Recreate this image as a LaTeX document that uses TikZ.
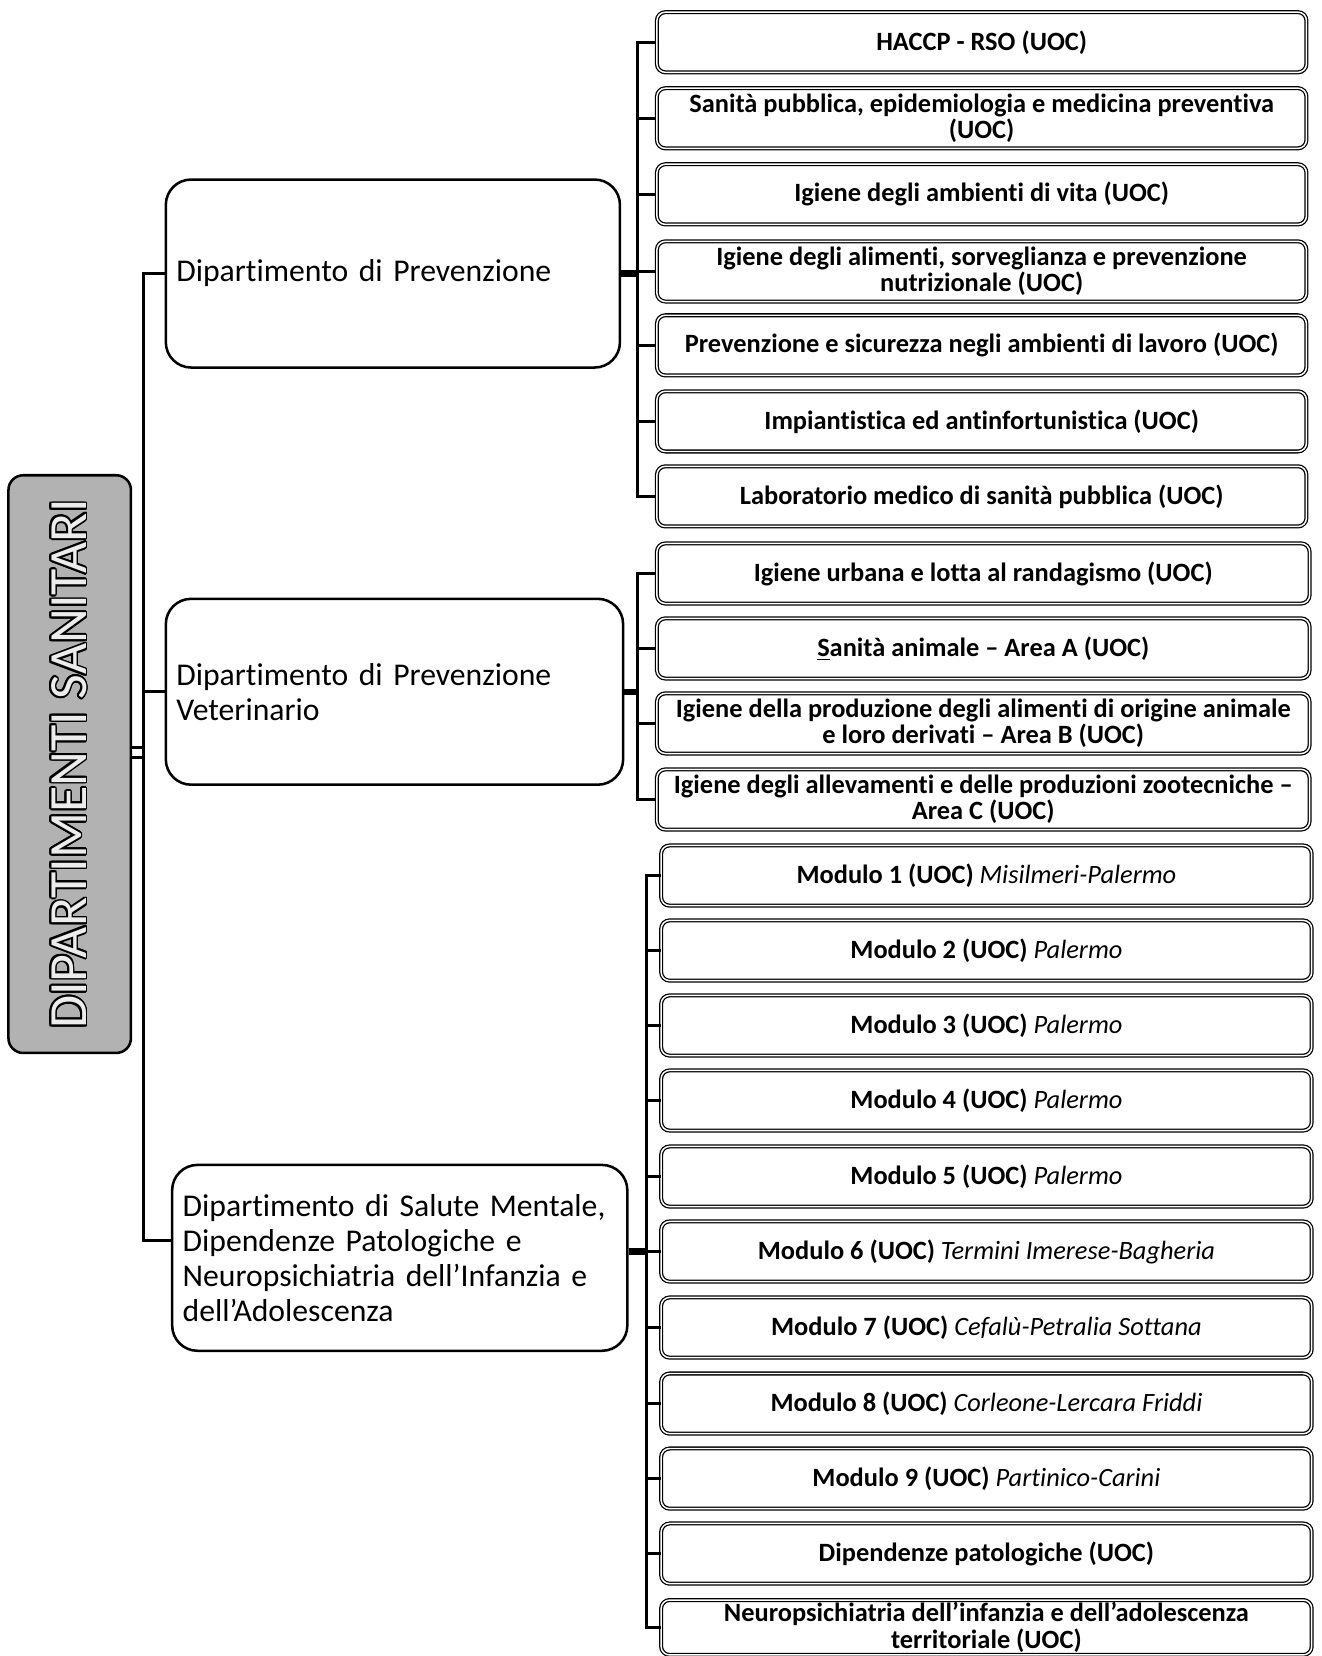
\documentclass[tikz,border=0pt]{standalone}
\usepackage{fontspec}
\setmainfont{Carlito}[Ligatures=NoCommon]
\usepackage{contour}
\contourlength{0.9pt}
\begin{document}
\begin{tikzpicture}[x=0.5pt,y=-0.5pt,
 unit/.style={draw=black, line width=0.6pt, double=white, double distance=0.7pt, rounded corners=4pt, minimum height=28.5pt, inner sep=1pt, align=center, font=\fontsize{12.5}{12.5}\selectfont\bfseries},
 dept/.style={draw=black, line width=1.2pt, rounded corners=12pt, align=left, inner sep=5pt, font=\fontsize{15}{16.5}\selectfont},
 conn/.style={line width=1.4pt},
 stub/.style={line width=3pt},
]
\useasboundingbox (0,0) rectangle (1251,1568);

% root
\node[draw=black, line width=1.2pt, fill=gray!60, rounded corners=7pt, minimum width=58pt, minimum height=273.5pt] (root) at (66,723.5) {};
\node[rotate=90, font=\fontsize{25.5}{25.5}\selectfont] (roottext) at (root.center) {\contour{black}{\textcolor{gray!15}{DIPARTIMENTI SANITARI}}};

% departments
\node[dept, text width=205pt, minimum height=89pt] (d1) at (372,259) {Dipartimento di Prevenzione};
\node[dept, text width=206.5pt, minimum height=88pt] (d2) at (373.5,655) {Dipartimento di Prevenzione\\Veterinario};
\node[dept, text width=205.5pt, minimum height=88pt] (d3) at (378.5,1191) {Dipartimento di Salute Mentale,\\Dipendenze  Patologiche e\\Neuropsichiatria  dell’Infanzia e\\dell’Adolescenza};

% group 1
\begin{scope}[every node/.style={unit, minimum width=307.5pt}]
\node (c1) at (929.5,40) {HACCP - RSO (UOC)};
\node (c2) at (929.5,112) {Sanità pubblica, epidemiologia e medicina preventiva\\(UOC)};
\node (c3) at (929.5,184) {Igiene degli ambienti di vita (UOC)};
\node (c4) at (929.5,257) {Igiene degli alimenti, sorveglianza  e prevenzione\\nutrizionale (UOC)};
\node (c5) at (929.5,327) {Prevenzione e sicurezza negli ambienti di lavoro (UOC)};
\node (c6) at (929.5,399) {Impiantistica ed antinfortunistica  (UOC)};
\node (c7) at (929.5,470) {Laboratorio  medico di sanità pubblica  (UOC)};
\end{scope}

% group 2
\begin{scope}[every node/.style={unit, minimum width=309pt}]
\node (c8) at (931,543) {Igiene urbana  e lotta al randagismo (UOC)};
\node (c9) at (931,614) {\underline{S}anità animale – Area A (UOC)};
\node (c10) at (931,685) {Igiene della produzione  degli alimenti di origine animale\\e loro  derivati – Area B (UOC)};
\node (c11) at (931,757) {Igiene degli allevamenti e delle produzioni  zootecniche –\\Area C (UOC)};
\end{scope}

% group 3
\begin{scope}[every node/.style={unit, minimum width=308pt}]
\node (c12) at (934,829) {Modulo 1 (UOC) \textit{\mdseries Misilmeri-Palermo}};
\node (c13) at (934,900) {Modulo 2 (UOC) \textit{\mdseries Palermo}};
\node (c14) at (934,971) {Modulo 3 (UOC) \textit{\mdseries Palermo}};
\node (c15) at (934,1042) {Modulo 4 (UOC) \textit{\mdseries Palermo}};
\node (c16) at (934,1114) {Modulo 5 (UOC) \textit{\mdseries Palermo}};
\node (c17) at (934,1185) {Modulo 6 (UOC) \textit{\mdseries Termini Imerese-Bagheria}};
\node (c18) at (934,1257) {Modulo 7 (UOC) \textit{\mdseries Cefalù-Petralia Sottana}};
\node (c19) at (934,1329) {Modulo 8 (UOC) \textit{\mdseries Corleone-Lercara Friddi}};
\node (c20) at (934,1400) {Modulo 9 (UOC) \textit{\mdseries Partinico-Carini}};
\node (c21) at (934,1471) {Dipendenze patologiche (UOC)};
\node[minimum height=26pt] (c22) at (934,1541) {Neuropsichiatria dell’infanzia e dell’adolescenza\\territoriale (UOC)};
\end{scope}

% connectors level 1
\coordinate (m) at (136,0);
\coordinate (d3in) at ([yshift=8pt]d3.west);
\draw[conn] (d1.west) -- (d1.west -| m) -- (d3in -| m) -- (d3in);
\draw[conn] (d2.west) -- (d2.west -| m);
\draw[line width=1.4pt] ([yshift=8pt]root.east) -- ([yshift=8pt]root.east -| m);
\draw[line width=1.4pt] ([yshift=3pt]root.east) -- ([yshift=3pt]root.east -| m);

% group 1 connectors
\coordinate (v1) at (604,0);
\draw[stub] (d1.east) -- (d1.east -| v1);
\draw[conn] (c1.west) -- (c1.west -| v1) -- (c7.west -| v1) -- (c7.west);
\foreach \c in {c2,c3,c4,c5,c6} \draw[conn] (\c.west -| v1) -- (\c.west);

% group 2 connectors
\coordinate (v2) at (604,0);
\draw[stub] (d2.east) -- (d2.east -| v2);
\draw[conn] (c8.west) -- (c8.west -| v2) -- (c11.west -| v2) -- (c11.west);
\foreach \c in {c9,c10} \draw[conn] (\c.west -| v2) -- (\c.west);

% group 3 connectors
\coordinate (v3) at (612,0);
\coordinate (d3out) at ([yshift=3pt]d3.east);
\draw[stub] (d3out) -- (d3out -| v3);
\draw[conn] (c12.west) -- (c12.west -| v3) -- (c22.west -| v3) -- (c22.west);
\foreach \c in {c13,c14,c15,c16,c17,c18,c19,c20,c21} \draw[conn] (\c.west -| v3) -- (\c.west);
\end{tikzpicture}
\end{document}
